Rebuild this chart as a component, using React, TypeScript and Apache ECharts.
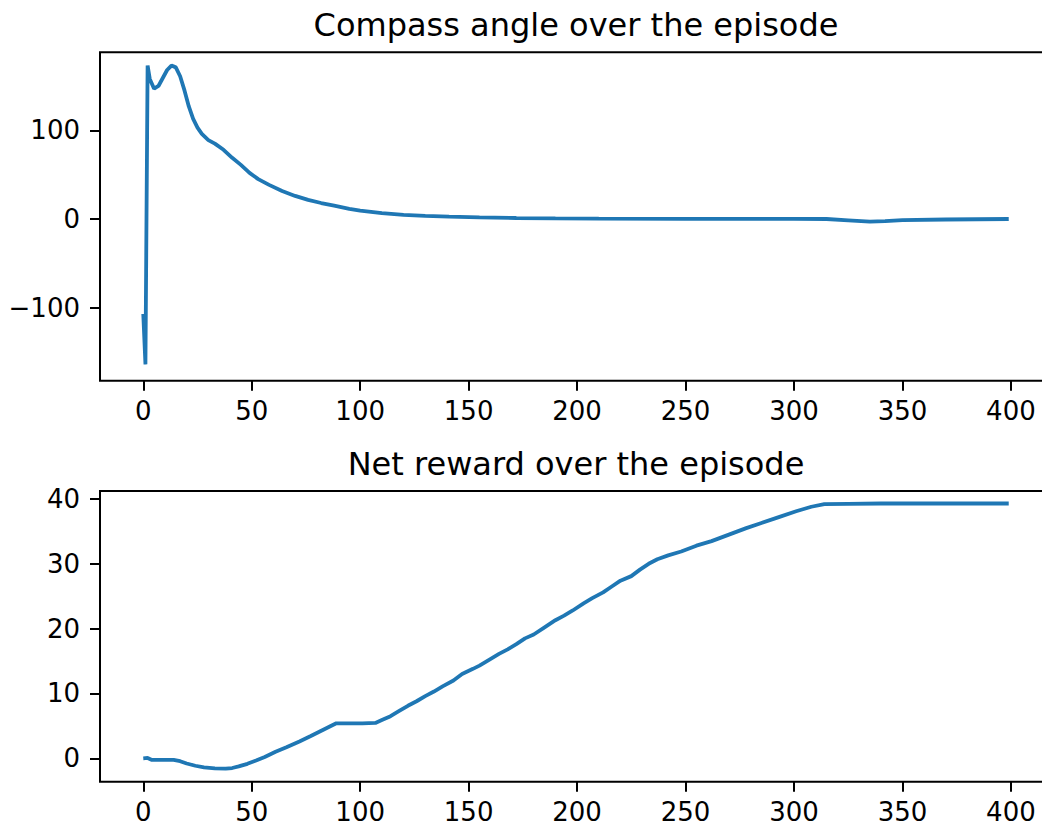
import React, { useEffect, useRef } from "react";
import * as echarts from "echarts";

// Compass angle over the episode: [step, angle]
const compassSteps = [0, 1, 2, 3, 5, 7, 9, 11, 13, 15, 17, 19, 21, 23, 25, 27, 30, 33, 37, 41, 45, 49, 53, 58, 64, 70, 76, 82, 88, 95, 100, 110, 120, 130, 141, 155, 172, 190, 210, 250, 300, 315, 325, 335, 342, 350, 370, 399];
const compassAngle = [-107, -164, 173, 158, 147, 150, 159, 168, 173, 171, 161, 145, 127, 113, 103, 96, 89, 85, 78, 69, 61, 52, 45, 38.5, 31.5, 26, 21.5, 18, 15, 11.5, 9.5, 6.5, 4.6, 3.5, 2.6, 1.8, 1.1, 0.6, 0.3, 0.2, 0.2, 0, -1.5, -3, -2.5, -1.2, -0.6, 0];

// Net reward over the episode: [step, reward]
const rewardSteps = [0, 2, 4, 8, 14, 17, 20, 24, 28, 33, 38, 41, 44, 48, 52, 56, 61, 66, 72, 77, 83, 89, 95, 101, 107, 110, 114, 118, 122, 126, 130, 134, 138, 143, 147, 152, 155, 160, 164, 168, 172, 176, 180, 185, 190, 194, 198, 203, 207, 212, 216, 220, 225, 229, 233, 237, 242, 248, 255, 262, 270, 278, 285, 293, 301, 308, 314, 325, 340, 360, 380, 399];
const rewardValues = [0, 0.05, -0.25, -0.25, -0.25, -0.45, -0.8, -1.15, -1.4, -1.55, -1.6, -1.5, -1.25, -0.85, -0.35, 0.2, 1.0, 1.7, 2.6, 3.4, 4.4, 5.4, 5.4, 5.4, 5.45, 5.9, 6.5, 7.3, 8.1, 8.8, 9.6, 10.3, 11.1, 12.0, 13.0, 13.8, 14.3, 15.3, 16.1, 16.8, 17.6, 18.5, 19.1, 20.2, 21.3, 22.0, 22.8, 23.9, 24.7, 25.6, 26.5, 27.4, 28.1, 29.1, 30.0, 30.7, 31.3, 31.9, 32.8, 33.5, 34.5, 35.5, 36.3, 37.2, 38.1, 38.8, 39.2, 39.25, 39.3, 39.3, 39.3, 39.3];

// Tick labels
const xTicks = [0, 50, 100, 150, 200, 250, 300, 350, 400];
const compassTicks = [-100, 0, 100];
const rewardTicks = [0, 10, 20, 30, 40];

const titles = ["Compass angle over the episode", "Net reward over the episode"];

const FONT = '"DejaVu Sans", "Liberation Sans", sans-serif';
const BLUE = "#1f77b4";

export default function App() {
  const ref = useRef<HTMLDivElement>(null);

  useEffect(() => {
    if (!ref.current) return;
    const chart = echarts.init(ref.current, undefined, { renderer: "svg" });

    const fmt = (v: number) => (v < 0 ? "\u2212" + Math.abs(v) : String(v));

    const xAxisBase = (gridIndex: number) => ({
      type: "value" as const,
      gridIndex,
      min: -19.95,
      max: 418.95,
      axisLine: { show: false, onZero: false },
      splitLine: { show: false },
      axisTick: {
        show: true,
        inside: false,
        length: 10,
        customValues: xTicks,
        lineStyle: { color: "#000", width: 2 },
      },
      axisLabel: {
        customValues: xTicks,
        margin: 17,
        color: "#000",
        fontSize: 26,
        fontFamily: FONT,
        formatter: fmt,
      },
    });

    const yAxisBase = (gridIndex: number, min: number, max: number, ticks: number[]) => ({
      type: "value" as const,
      gridIndex,
      min,
      max,
      axisLine: { show: false, onZero: false },
      splitLine: { show: false },
      axisTick: {
        show: true,
        inside: false,
        length: 10,
        customValues: ticks,
        lineStyle: { color: "#000", width: 2 },
      },
      axisLabel: {
        customValues: ticks,
        margin: 20,
        color: "#000",
        fontSize: 26,
        fontFamily: FONT,
        formatter: fmt,
      },
    });

    chart.setOption({
      animation: false,
      backgroundColor: "#fff",
      grid: [
        { left: 100, top: 52.3, width: 952, height: 328.4, show: true, borderColor: "#000", borderWidth: 2, backgroundColor: "transparent", containLabel: false },
        { left: 100, top: 491, width: 952, height: 290.7, show: true, borderColor: "#000", borderWidth: 2, backgroundColor: "transparent", containLabel: false },
      ],
      xAxis: [xAxisBase(0), xAxisBase(1)],
      yAxis: [
        yAxisBase(0, -182.4, 188, compassTicks),
        yAxisBase(1, -3.61, 41.23, rewardTicks),
      ],
      series: [
        {
          type: "line",
          xAxisIndex: 0,
          yAxisIndex: 0,
          data: compassSteps.map((s, i) => [s, compassAngle[i]]),
          showSymbol: false,
          smooth: false,
          lineStyle: { color: BLUE, width: 3.8 },
          itemStyle: { color: BLUE },
        },
        {
          type: "line",
          xAxisIndex: 1,
          yAxisIndex: 1,
          data: rewardSteps.map((s, i) => [s, rewardValues[i]]),
          showSymbol: false,
          smooth: false,
          lineStyle: { color: BLUE, width: 3.8 },
          itemStyle: { color: BLUE },
        },
      ],
      graphic: [
        {
          type: "text",
          x: 576,
          y: 25,
          style: { text: titles[0], font: `32px ${FONT}`, fill: "#000", align: "center", verticalAlign: "middle" },
        },
        {
          type: "text",
          x: 576,
          y: 464,
          style: { text: titles[1], font: `32px ${FONT}`, fill: "#000", align: "center", verticalAlign: "middle" },
        },
      ],
    });

    return () => chart.dispose();
  }, []);

  return (
    <div style={{ position: "fixed", left: 0, top: 0, width: 1042, height: 826, overflow: "hidden", background: "#fff" }}>
      <div ref={ref} style={{ width: 1070, height: 826 }} />
    </div>
  );
}
